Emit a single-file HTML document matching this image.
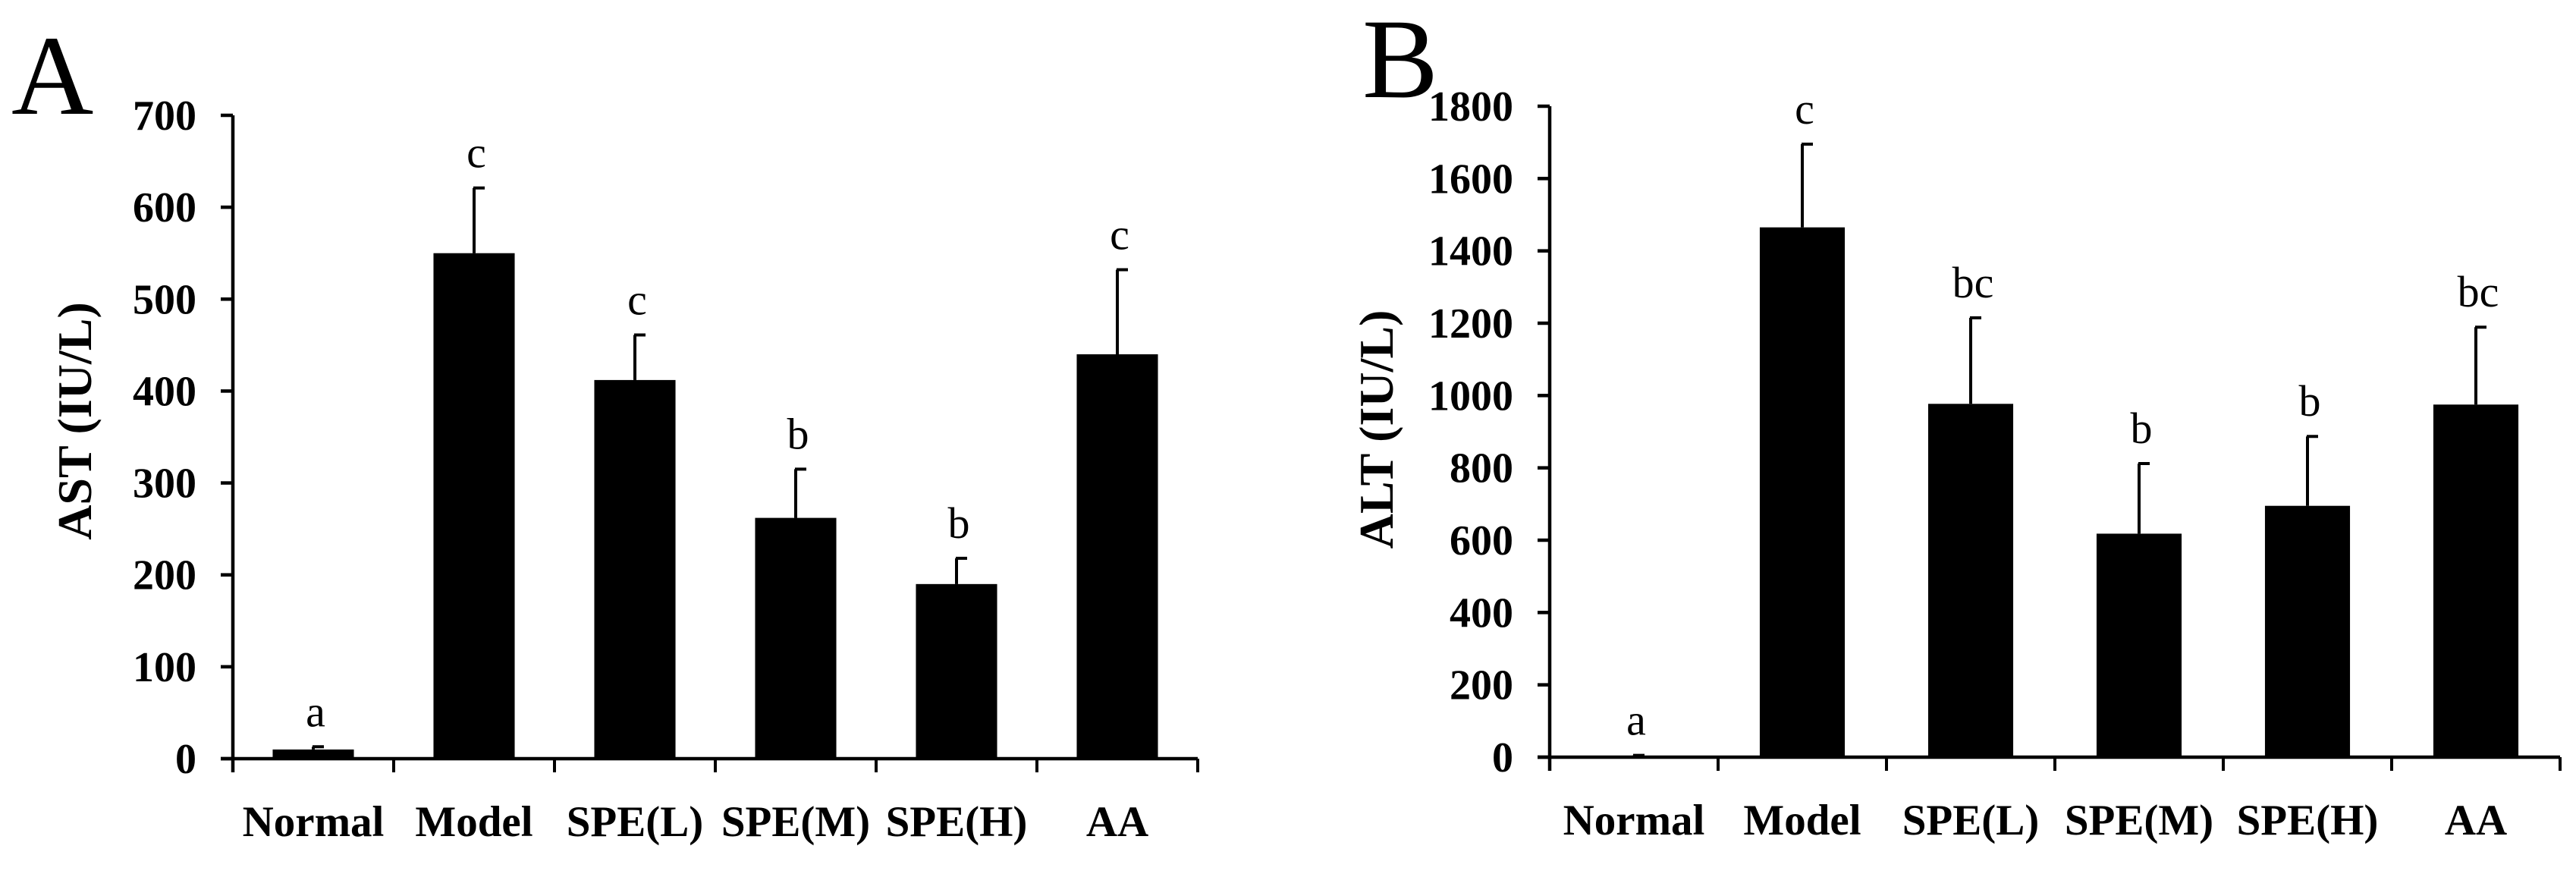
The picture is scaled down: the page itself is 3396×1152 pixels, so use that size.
<!DOCTYPE html>
<html><head><meta charset="utf-8"><style>
html,body{margin:0;padding:0;background:#fff;}
svg{display:block;}
text{font-family:"Liberation Serif","Times New Roman",serif;fill:#000;}
</style></head><body>
<svg id="fig" width="3396" height="1152" viewBox="0 0 3396 1152" xmlns="http://www.w3.org/2000/svg">
<text x="15" y="150" font-size="150">A</text>
<text x="1796" y="128" font-size="150">B</text>
</svg>
<script>
const categories = ["Normal","Model","SPE(L)","SPE(M)","SPE(H)","AA"];
const astValues = [10, 550, 412, 262, 190, 440];
const astErrors = [13, 621, 461, 315, 218, 532];
const astLetters = ["a","c","c","b","b","c"];
const astTicks = [0,100,200,300,400,500,600,700];
const altValues = [3, 1465, 977, 618, 695, 975];
const altErrors = [5, 1695, 1215, 812, 887, 1189];
const altLetters = ["a","c","bc","b","b","bc"];
const altTicks = [0,200,400,600,800,1000,1200,1400,1600,1800];

const NS = "http://www.w3.org/2000/svg";
const svg = document.getElementById("fig");
function mk(tag, attrs){ const e=document.createElementNS(NS,tag); for(const k in attrs) e.setAttribute(k,attrs[k]); return e; }

function drawPanel(p){
  const g = mk("g",{});
  
  
  svg.appendChild(g);
  const n = categories.length;
  const xEnd = p.x0 + n*p.cw;
  const yScale = v => p.y0 - (v - p.min)/(p.max - p.min)*(p.y0 - p.yTop);
  const xCenter = i => p.x0 + p.cw*(i+0.5);
  // bars
  for(let i=0;i<n;i++){
    const bw = p.cw*0.505;
    const top = yScale(p.values[i]);
    const r = mk("rect",{x:xCenter(i)-bw/2, y:top, width:bw, height:Math.max(p.y0-top,0), fill:"#000"});
    
    
    g.appendChild(r);
    const et = yScale(p.errors[i]);
    const el = mk("path",{d:`M${xCenter(i)},${top} V${et} M${xCenter(i)-1},${et} H${xCenter(i)+14}`, stroke:"#000","stroke-width":4, fill:"none"});
    
    
    g.appendChild(el);
    const lt = mk("text",{x:xCenter(i)+3, y:et-27, "font-size":58, "text-anchor":"middle"});
    lt.textContent = p.letters[i];
    
    
    g.appendChild(lt);
    const cl = mk("text",{x:xCenter(i), y:p.y0+102, "font-size":57, "font-weight":"bold", "text-anchor":"middle"});
    cl.textContent = categories[i];
    
    
    g.appendChild(cl);
  }
  // axes
  const ax = mk("path",{d:`M${p.x0},${p.yTop} V${p.y0+18} M${p.x0-16},${p.y0} H${xEnd}`, stroke:"#000","stroke-width":4.5, fill:"none"});
  
  
  g.appendChild(ax);
  for(let i=1;i<=n;i++){
    const t = mk("line",{x1:p.x0+p.cw*i, x2:p.x0+p.cw*i, y1:p.y0, y2:p.y0+18, stroke:"#000","stroke-width":4});
    
    
    g.appendChild(t);
  }
  for(const v of p.ticks){
    const y = yScale(v);
    const t = mk("line",{x1:p.x0-16, x2:p.x0, y1:y, y2:y, stroke:"#000","stroke-width":4.5});
    
    
    g.appendChild(t);
    const tl = mk("text",{x:p.x0-48, y:y+19, "font-size":56, "font-weight":"bold", "text-anchor":"end"});
    tl.textContent = v;
    
    
    g.appendChild(tl);
  }
  const yt = mk("text",{transform:`translate(${p.titleX},${p.titleY}) rotate(-90)`, "font-size":64, "font-weight":"bold", "text-anchor":"middle"});
  yt.textContent = p.title;
  
  
  g.appendChild(yt);
}

drawPanel({id:"ast", x0:307, cw:212, y0:1000, yTop:152, min:0, max:700, values:astValues, errors:astErrors, letters:astLetters, ticks:astTicks, title:"AST (IU/L)", titleX:120, titleY:555});
drawPanel({id:"alt", x0:2043, cw:222, y0:998, yTop:140, min:0, max:1800, values:altValues, errors:altErrors, letters:altLetters, ticks:altTicks, title:"ALT (IU/L)", titleX:1836, titleY:566});
</script>
</body></html>
